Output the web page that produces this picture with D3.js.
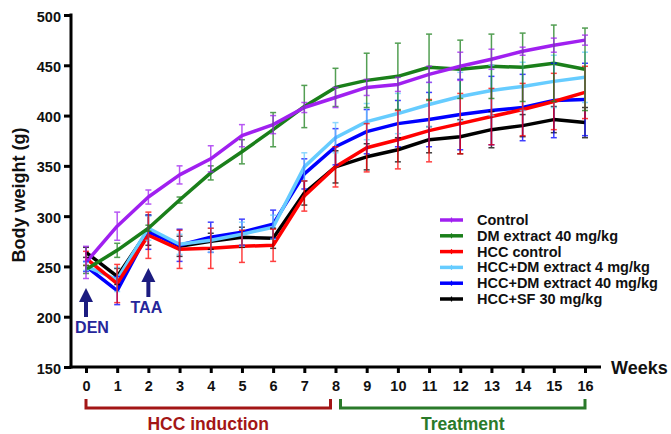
<!DOCTYPE html>
<html>
<head>
<meta charset="utf-8">
<script src="https://cdn.jsdelivr.net/npm/d3@7"></script>
<style>
  body { margin: 0; background: #fff; }
  svg { display: block; font-family: "Liberation Sans", Arial, sans-serif; font-weight: bold; }
</style>
</head>
<body>
<div id="chart"></div>
<script>
/* Week numbers on the x axis. */
const weeks = d3.range(0, 17);

/* Series names, colours and values (mean and error). */
const seriesNames = ["Control", "DM extract 40 mg/kg", "HCC control",
  "HCC+DM extract 4 mg/kg", "HCC+DM extract 40 mg/kg", "HCC+SF 30 mg/kg"];
const seriesColors = ["#a020f0", "#1a7f1a", "#ff0000", "#66ccff", "#0000ff", "#000000"];

const controlMean = [254, 290, 319, 341, 357, 380, 391, 408, 418, 428, 431, 441, 449, 456, 464, 470, 475];
const controlErr = [16, 14, 7, 9, 13, 11, 9, 5, 10, 8, 7, 8, 14, 10, 4, 7, 5];
const dmMean = [247, 266, 288, 316, 343, 364, 386, 409, 428, 435, 439, 448, 446, 449, 448, 452, 446];
const dmErr = [4, 7, 3, 3, 7, 12, 17, 21, 19, 27, 33, 33, 29, 32, 34, 38, 41];
const hccMean = [258, 233, 281, 267, 268, 270, 271, 320, 349, 368, 376, 385, 392, 399, 406, 414, 423];
const hccErr = [7, 19, 23, 19, 20, 16, 16, 15, 20, 24, 29, 31, 30, 28, 26, 28, 26];
const dm4Mean = [250, 237, 288, 272, 276, 282, 289, 349, 378, 394, 402, 411, 419, 425, 429, 434, 438];
const dm4Err = [4, 12, 12, 10, 12, 12, 12, 14, 15, 18, 20, 22, 24, 25, 24, 26, 25];
const dm40Mean = [250, 226, 284, 271, 279, 284, 292, 342, 369, 384, 392, 396, 401, 405, 408, 415, 416];
const dm40Err = [5, 14, 17, 16, 15, 13, 14, 15, 18, 22, 23, 27, 35, 34, 33, 37, 36];
const sfMean = [264, 240, 286, 270, 275, 279, 278, 323, 349, 359, 366, 376, 379, 386, 390, 396, 393];
const sfErr = [5, 8, 15, 10, 8, 10, 10, 12, 16, 13, 12, 13, 17, 18, 11, 13, 15];

const yTicks = [150, 200, 250, 300, 350, 400, 450, 500];

/* Phase brackets under the x axis. */
const phases = [
  { label: "HCC induction", from: 0, to: 8, color: "#a31616", end: -5 },
  { label: "Treatment", from: 8, to: 16, color: "#2a7a2a", start: 5 }
];

/* Arrow annotations. */
const arrows = [
  { label: "DEN", week: 0, tip: 288, bottom: 317, textY: 333, dx: 6 },
  { label: "TAA", week: 2, tip: 268, bottom: 297, textY: 313, dx: -2 }
];

const means = [controlMean, dmMean, hccMean, dm4Mean, dm40Mean, sfMean];
const errs = [controlErr, dmErr, hccErr, dm4Err, dm40Err, sfErr];
const series = seriesNames.map((name, i) => ({
  name: name,
  color: seriesColors[i],
  values: weeks.map((w, j) => ({ week: w, mean: means[i][j], err: errs[i][j] }))
}));

const width = 671, height = 434;
const svg = d3.select("#chart").append("svg")
  .attr("width", width)
  .attr("height", height);

const x = d3.scaleLinear().domain([0, 16]).range([86, 585]);
const y = d3.scaleLinear().domain([150, 500]).range([367, 15]);
const axisLeft = 71;

/* Series lines (drawn bottom to top so Control lies on top). */
const line = d3.line()
  .x(d => x(d.week))
  .y(d => y(d.mean));

const drawOrder = series.slice().reverse();
const g = svg.append("g");

drawOrder.forEach(s => {
  g.append("path")
    .datum(s.values)
    .attr("fill", "none")
    .attr("stroke", s.color)
    .attr("stroke-width", 3.5)
    .attr("stroke-linejoin", "round")
    .attr("d", line);
});

/* Error bars on top of the lines. */
drawOrder.forEach(s => {
  const eb = g.append("g")
    .attr("stroke", s.color)
    .attr("stroke-width", 1.5)
    .attr("opacity", 0.75);
  s.values.forEach(d => {
    const cx = x(d.week);
    eb.append("line").attr("x1", cx).attr("x2", cx)
      .attr("y1", y(d.mean + d.err)).attr("y2", y(d.mean - d.err));
    [d.mean + d.err, d.mean - d.err].forEach(v => {
      eb.append("line").attr("x1", cx - 3).attr("x2", cx + 3)
        .attr("y1", y(v)).attr("y2", y(v));
    });
  });
});

/* Y axis. */
const yAxis = svg.append("g")
  .attr("transform", "translate(" + axisLeft + ",0)")
  .call(d3.axisLeft(y).tickValues(yTicks).tickSize(7).tickPadding(3).tickFormat(d3.format("d")));
yAxis.select(".domain").attr("stroke-width", 3).attr("d", "M0," + (y(150) + 1.5) + "V" + (y(500) - 1.5));
yAxis.selectAll(".tick line").attr("stroke-width", 3);
yAxis.selectAll(".tick text")
  .attr("font-size", 14.5)
  .attr("font-family", "Liberation Sans, Arial, sans-serif")
  .attr("font-weight", "bold")
  .attr("dy", "0.42em")
  .attr("fill", "#111");

/* X axis. */
const xAxis = svg.append("g")
  .attr("transform", "translate(0," + y(150) + ")")
  .call(d3.axisBottom(x).tickValues(weeks).tickSize(6).tickPadding(8).tickFormat(d3.format("d")));
xAxis.select(".domain").attr("stroke-width", 3).attr("d", "M" + (axisLeft - 1.5) + ",0H601");
xAxis.selectAll(".tick line").attr("stroke-width", 3);
xAxis.selectAll(".tick text")
  .attr("font-size", 14.5)
  .attr("font-family", "Liberation Sans, Arial, sans-serif")
  .attr("font-weight", "bold")
  .attr("fill", "#111");

svg.append("text")
  .attr("x", 611)
  .attr("y", y(150) + 6.5)
  .attr("font-size", 18)
  .attr("fill", "#111")
  .text("Weeks");

svg.append("text")
  .attr("transform", "translate(25," + 195 + ") rotate(-90)")
  .attr("text-anchor", "middle")
  .attr("font-size", 18)
  .attr("fill", "#111")
  .text("Body weight (g)");

/* Phase brackets. */
phases.forEach(p => {
  const x0 = x(p.from) + (p.start || 0);
  const x1 = x(p.to) + (p.end || 0);
  svg.append("path")
    .attr("fill", "none")
    .attr("stroke", p.color)
    .attr("stroke-width", 3)
    .attr("d", "M" + x0 + ",399V408H" + x1 + "V399");
  svg.append("text")
    .attr("x", (x0 + x1) / 2)
    .attr("y", 430)
    .attr("text-anchor", "middle")
    .attr("font-size", 17.5)
    .attr("fill", p.color)
    .text(p.label);
});

/* Arrows. */
arrows.forEach(a => {
  const ax = x(a.week);
  svg.append("line")
    .attr("x1", ax).attr("x2", ax)
    .attr("y1", a.tip + 12).attr("y2", a.bottom)
    .attr("stroke", "#1c1c80")
    .attr("stroke-width", 4);
  svg.append("path")
    .attr("fill", "#1c1c80")
    .attr("d", "M" + ax + "," + a.tip + "L" + (ax + 7) + "," + (a.tip + 14) + "L" + (ax - 7) + "," + (a.tip + 14) + "Z");
  svg.append("text")
    .attr("x", ax + a.dx)
    .attr("y", a.textY)
    .attr("text-anchor", "middle")
    .attr("font-size", 16)
    .attr("fill", "#26269a")
    .text(a.label);
});

/* Legend. */
const legend = svg.append("g")
  .attr("transform", "translate(440,220)");
series.forEach((s, i) => {
  const row = legend.append("g").attr("transform", "translate(0," + (i * 15.8) + ")");
  row.append("line")
    .attr("x1", 0).attr("x2", 23)
    .attr("stroke", s.color)
    .attr("stroke-width", 3.5);
  row.append("line")
    .attr("x1", 11.5).attr("x2", 11.5)
    .attr("y1", -2.5).attr("y2", 2.5)
    .attr("stroke", s.color)
    .attr("stroke-width", 1.2);
  row.append("text")
    .attr("x", 37)
    .attr("y", 5)
    .attr("font-size", 14.5)
    .attr("fill", "#111")
    .text(s.name);
});
</script>
</body>
</html>
